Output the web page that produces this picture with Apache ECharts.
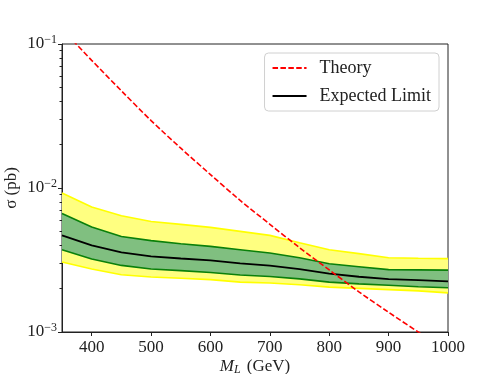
<!DOCTYPE html>
<html>
<head>
<meta charset="utf-8">
<script src="https://cdn.jsdelivr.net/npm/echarts@6/dist/echarts.min.js"></script>
<style>
  html, body { margin: 0; padding: 0; background: #fff; }
  #chart { width: 498px; height: 374px; }
</style>
</head>
<body>
<div id="chart"></div>
<script>
// masses (GeV)
const masses = [350, 400, 450, 500, 550, 600, 650, 700, 750, 800, 850, 900, 950, 1000];
// theory cross section (pb)
const theory = [0.127, 0.0770, 0.0473, 0.0294, 0.0189, 0.0124, 0.0082, 0.0056, 0.00385, 0.0027, 0.0019, 0.00137, 0.00100, 0.00074];
// expected limit and bands (pb)
const expected = [0.00469, 0.00399, 0.00357, 0.00335, 0.00324, 0.00314, 0.00300, 0.00289, 0.00273, 0.00254, 0.00242, 0.00233, 0.00229, 0.00225];
const oneSigmaUp = [0.00666, 0.00536, 0.00461, 0.00431, 0.00410, 0.00393, 0.00373, 0.00354, 0.00328, 0.00298, 0.00284, 0.00271, 0.00270, 0.00269];
const oneSigmaDown = [0.00373, 0.00321, 0.00290, 0.00274, 0.00267, 0.00259, 0.00249, 0.00243, 0.00234, 0.00222, 0.00216, 0.00211, 0.00206, 0.00203];
const twoSigmaUp = [0.00923, 0.00738, 0.00642, 0.00586, 0.00559, 0.00533, 0.00500, 0.00469, 0.00417, 0.00373, 0.00350, 0.00328, 0.00325, 0.00323];
const twoSigmaDown = [0.00306, 0.00274, 0.00250, 0.00241, 0.00236, 0.00231, 0.00222, 0.00219, 0.00213, 0.00205, 0.00201, 0.00197, 0.00193, 0.00187];

const xTicks = [400, 500, 600, 700, 800, 900, 1000];
const yMinorTicks = [0.002, 0.003, 0.004, 0.005, 0.006, 0.007, 0.008, 0.009,
                     0.02, 0.03, 0.04, 0.05, 0.06, 0.07, 0.08, 0.09];

const FONT = "'Liberation Serif', 'DejaVu Serif', serif";
const TXT = '#222';

const chart = echarts.init(document.getElementById('chart'));

// filled band between two curves
function band(name, upper, lower, fill, z) {
  return {
    name: name,
    type: 'custom',
    z: z,
    silent: true,
    data: [[masses[0], lower[0]]],
    renderItem: function (params, api) {
      const pts = [];
      masses.forEach((m, i) => pts.push(api.coord([m, upper[i]])));
      for (let i = masses.length - 1; i >= 0; i--) pts.push(api.coord([masses[i], lower[i]]));
      return { type: 'polygon', shape: { points: pts }, style: { fill: fill } };
    }
  };
}

function edge(name, vals, color, z) {
  return {
    name: name,
    type: 'line',
    z: z,
    silent: true,
    symbol: 'none',
    data: masses.map((m, i) => [m, vals[i]]),
    lineStyle: { color: color, width: 1.6 }
  };
}

const option = {
  animation: false,
  backgroundColor: '#fff',
  grid: {
    left: 62, right: 50, top: 44, bottom: 42,
    outerBoundsMode: 'none',
    show: true, borderColor: '#222', borderWidth: 1
  },
  legend: {
    data: ['Theory', 'Expected Limit'],
    orient: 'vertical',
    right: 59, top: 53,
    itemWidth: 34, itemHeight: 14, itemGap: 10,
    padding: [6, 8, 6, 7],
    borderColor: '#d0d0d0', borderWidth: 1, borderRadius: 4,
    backgroundColor: 'rgba(255,255,255,0.8)',
    itemStyle: { opacity: 0 },
    textStyle: { fontFamily: FONT, fontSize: 18, color: TXT, padding: [0, 0, 0, 8] }
  },
  xAxis: {
    type: 'value',
    min: 350, max: 1000,
    name: '{i|M}{s|L} (GeV)',
    nameLocation: 'middle',
    nameMoveOverlap: false,
    nameGap: 26,
    nameTextStyle: {
      fontFamily: FONT, fontSize: 17, color: TXT,
      rich: {
        i: { fontFamily: FONT, fontSize: 17, fontStyle: 'italic', color: TXT },
        s: { fontFamily: FONT, fontSize: 12, fontStyle: 'italic', color: TXT, verticalAlign: 'bottom', padding: [6, 2, 0, 0] }
      }
    },
    axisLine: { lineStyle: { color: '#222' } },
    axisTick: { customValues: xTicks, length: 4, lineStyle: { color: '#222' } },
    axisLabel: {
      customValues: xTicks, margin: 7, fontFamily: FONT, fontSize: 17, color: TXT,
      formatter: v => String(v)
    },
    splitLine: { show: false }
  },
  yAxis: [{
    type: 'log',
    logBase: 10,
    min: 0.001, max: 0.1,
    name: 'σ (pb)',
    nameLocation: 'middle',
    nameMoveOverlap: false,
    nameGap: 42,
    nameTextStyle: { fontFamily: FONT, fontSize: 17, color: TXT },
    axisLine: { lineStyle: { color: '#222' } },
    axisTick: { length: 4, lineStyle: { color: '#222' } },
    axisLabel: {
      margin: 5,
      formatter: function (v) {
        const e = Math.round(Math.log10(v));
        return '{b|10}{e|\u2212' + Math.abs(e) + '}';
      },
      rich: {
        b: { fontFamily: FONT, fontSize: 17, color: TXT },
        e: { fontFamily: FONT, fontSize: 12, color: TXT, verticalAlign: 'top', padding: [0, 0, 8, 0] }
      }
    },
    splitLine: { show: false }
  }, {
    type: 'log',
    logBase: 10,
    min: 0.001, max: 0.1,
    position: 'left',
    axisLine: { show: false },
    axisTick: { customValues: yMinorTicks, length: 2.5, lineStyle: { color: '#222' } },
    axisLabel: { show: false },
    splitLine: { show: false }
  }],
  series: [
    band('2sigma', twoSigmaUp, twoSigmaDown, '#ffff80', 1),
    edge('2sigma up', twoSigmaUp, '#ffff00', 2),
    edge('2sigma down', twoSigmaDown, '#ffff00', 2),
    band('1sigma', oneSigmaUp, oneSigmaDown, '#80bf80', 3),
    edge('1sigma up', oneSigmaUp, '#0a800a', 4),
    edge('1sigma down', oneSigmaDown, '#0a800a', 4),
    {
      name: 'Expected Limit',
      type: 'line',
      z: 5,
      symbol: 'none',
      itemStyle: { color: '#000' },
      data: masses.map((m, i) => [m, expected[i]]),
      lineStyle: { color: '#000', width: 1.8 }
    },
    {
      name: 'Theory',
      type: 'line',
      z: 6,
      symbol: 'none',
      smooth: 0.3,
      itemStyle: { color: '#ff0000' },
      data: masses.map((m, i) => [m, theory[i]]),
      lineStyle: { color: '#ff0000', width: 1.6, type: [5.5, 2.4] }
    }
  ]
};

chart.setOption(option);
</script>
</body>
</html>
